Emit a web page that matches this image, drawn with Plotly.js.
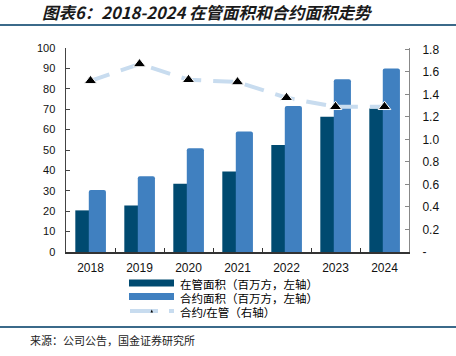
<!DOCTYPE html>
<html>
<head>
<meta charset="utf-8">
<script src="https://cdn.plot.ly/plotly-3.0.1.min.js"></script>
<style>html,body{margin:0;padding:0;background:#fff;}#chart{width:456px;height:356px;}</style>
</head>
<body>
<div id="chart"></div>
<script>
const years = ['2018','2019','2020','2021','2022','2023','2024'];
const managedArea = [20.4, 22.8, 33.5, 39.4, 52.5, 66.3, 70.3];
const contractArea = [30.4, 37.1, 50.9, 59.1, 71.6, 84.7, 90.0];
const contractRatio = [1.52, 1.67, 1.53, 1.51, 1.37, 1.29, 1.29];
const seriesNames = ['在管面积（百万方，左轴）', '合约面积（百万方，左轴）', '合约/在管（右轴）'];
const rightTickVals = [0, 0.2, 0.4, 0.6, 0.8, 1.0, 1.2, 1.4, 1.6, 1.8];
const rightTickText = ['-', '0.2', '0.4', '0.6', '0.8', '1.0', '1.2', '1.4', '1.6', '1.8'];

const DARK = '#004a70', LIGHT = '#4080c0', LINE = '#c8dcef', RULE = '#3b6a8a';
const cjk = '"Noto Sans CJK SC", "Liberation Sans", sans-serif';
const latinFirst = '"Liberation Sans", "Noto Sans CJK SC", sans-serif';
const latin = '"Liberation Sans", Arial, sans-serif';

const traces = [
  {type:'bar', x: years, y: managedArea, name: seriesNames[0], marker:{color: DARK},
   offset: -0.31, width: 0.28, showlegend:false, hoverinfo:'y'},
  {type:'bar', x: years, y: contractArea, name: seriesNames[1], marker:{color: LIGHT, cornerradius: 2},
   offset: -0.035, width: 0.35, showlegend:false, hoverinfo:'y'},
  {type:'scatter', mode:'lines+markers', x: years, y: contractRatio, yaxis:'y2', name: seriesNames[2],
   line:{color: LINE, width: 4, dash:'20px,12px'},
   marker:{symbol:'triangle-up', size:11, color:'#000', line:{color:'#fff', width:1}},
   showlegend:false, hoverinfo:'y'}
];

// paper coordinate helpers (plot area: x 66..409, y 48..252)
const px = X => (X - 66) / 343;
const py = Y => (252 - Y) / 204;

const shapes = [
  {type:'line', xref:'paper', yref:'paper', x0:px(0), x1:px(456), y0:py(25), y1:py(25), line:{color:RULE, width:2}},
  {type:'line', xref:'paper', yref:'paper', x0:px(0), x1:px(456), y0:py(327), y1:py(327), line:{color:RULE, width:2}},
  {type:'rect', xref:'paper', yref:'paper', x0:px(129), x1:px(174), y0:py(279.5), y1:py(286.5), fillcolor:DARK, line:{width:0}},
  {type:'rect', xref:'paper', yref:'paper', x0:px(129), x1:px(174), y0:py(293), y1:py(300), fillcolor:LIGHT, line:{width:0}},
  {type:'line', xref:'paper', yref:'paper', x0:px(130), x1:px(174), y0:py(311), y1:py(311), line:{color:LINE, width:4, dash:'28px,11px'}},
  {type:'path', xref:'paper', yref:'paper',
   path:`M ${px(150.5)} ${py(312.5)} L ${px(153)} ${py(312.5)} L ${px(151.75)} ${py(309.5)} Z`,
   fillcolor:'#000', line:{width:0}}
];

const legendFont = {family:latinFirst, size:11.5, color:'#000'};
const annotations = [
  {xref:'paper', yref:'paper', x:px(178), y:py(284), xanchor:'left', yanchor:'middle', showarrow:false,
   text: seriesNames[0], font:legendFont},
  {xref:'paper', yref:'paper', x:px(178), y:py(298.3), xanchor:'left', yanchor:'middle', showarrow:false,
   text: seriesNames[1], font:legendFont},
  {xref:'paper', yref:'paper', x:px(178), y:py(312.6), xanchor:'left', yanchor:'middle', showarrow:false,
   text: seriesNames[2], font:legendFont},
  {xref:'paper', yref:'paper', x:px(28), y:py(340), xanchor:'left', yanchor:'middle', showarrow:false,
   text: '来源：公司公告，国金证券研究所', font:{family:cjk, size:11, color:'#222'}}
];

const layout = {
  width: 456, height: 356,
  margin: {l:66, r:47, t:48, b:104, pad:0},
  paper_bgcolor:'#fff', plot_bgcolor:'#fff',
  title: {text:'<b><i>图表6：2018-2024 在管面积和合约面积走势</i></b>', xref:'container', yref:'container',
          x: 42/456, xanchor:'left', y: 1 - 13/356, yanchor:'middle',
          font:{family:cjk, size:16.5, color:'#1a1a1a'}},
  barmode:'overlay',
  showlegend:false,
  xaxis: {type:'category', showgrid:false, zeroline:false, showline:true, linecolor:'#333', linewidth:1.5,
          ticks:'inside', tickson:'boundaries', ticklen:4, tickcolor:'#333',
          tickfont:{family:latin, size:12, color:'#111'}, ticklabelstandoff:4},
  yaxis: {range:[0,100], dtick:10, showgrid:false, zeroline:false, showline:true, linecolor:'#444', linewidth:1.5,
          ticks:'inside', ticklen:4, tickcolor:'#444', tickfont:{family:latin, size:11, color:'#111'},
          ticklabelstandoff:7},
  yaxis2: {overlaying:'y', side:'right', range:[0,1.812], tickvals:rightTickVals, ticktext:rightTickText,
           showgrid:false, zeroline:false, showline:true, linecolor:'#888', linewidth:1,
           ticks:'inside', ticklen:4, tickcolor:'#888', tickfont:{family:latin, size:12, color:'#111'},
           ticklabelstandoff:10},
  shapes: shapes,
  annotations: annotations
};

Plotly.newPlot('chart', traces, layout, {displayModeBar:false, staticPlot:true});
</script>
</body>
</html>
